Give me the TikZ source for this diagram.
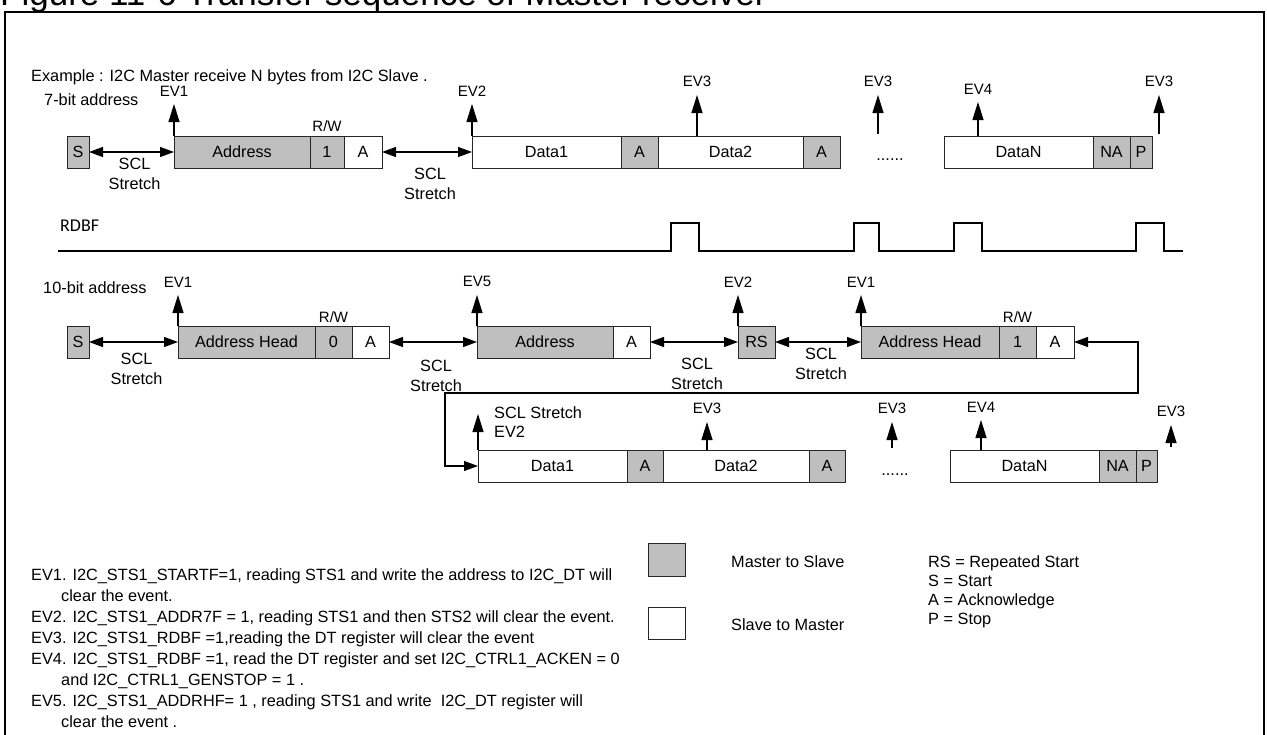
\documentclass[tikz,border=0pt]{standalone}
\usepackage{fontspec}
\setmainfont{Liberation Sans}
\newfontfamily\rdbffont{Carlito}
\usetikzlibrary{arrows.meta, shapes, positioning}

\begin{document}
\begin{tikzpicture}[
    x=1pt, y=-1pt,
    mbox/.style={rectangle, draw=black!85, line width=1pt, fill=black!25, minimum height=32pt,
                 inner sep=0pt, outer sep=0pt, anchor=west, font=\fontsize{16.2pt}{20pt}\selectfont},
    sbox/.style={mbox, fill=white},
    lab/.style={inner sep=0pt, font=\fontsize{16.3pt}{20pt}\selectfont},
    evlab/.style={inner sep=0pt, outer sep=8pt, font=\fontsize{15pt}{18pt}\selectfont},
    evarrow/.style={-{Triangle[length=18pt, width=11pt]}, line width=1.2pt},
    sclarrow/.style={{Triangle[length=14pt, width=10pt]}-{Triangle[length=14pt, width=10pt]}, line width=1.2pt}
]
\useasboundingbox (0,0) rectangle (1267,734);
\node[lab, anchor=base west, font=\fontsize{35pt}{40pt}\selectfont] (title) at (0,5) {Figure 11-6 Transfer sequence of Master receiver};
\draw[line width=2pt] (5,740) |- (1264,12) -- (1264,740);

\node[lab, anchor=base west] (example) at (31,81) {Example : I2C Master receive N bytes from I2C Slave .};
\node[lab, anchor=base west] (bit7) at (44,105) {7-bit address};
\node[lab, anchor=base west] (bit10) at (43,293) {10-bit address};
\node[lab, anchor=base west, font=\rdbffont\fontsize{18pt}{20pt}\selectfont] (rdbf) at (60,231) {RDBF};

\node[mbox, minimum width=22pt] (s1) at (67,152) {S};
\node[mbox, minimum width=136pt] (ad1) at (174,152) {Address};
\node[mbox, minimum width=34pt, right=0pt of ad1] (rw1) {1};
\node[sbox, minimum width=38pt, right=0pt of rw1] (a1) {A};
\node[sbox, minimum width=149pt] (d11) at (472,152) {Data1};
\node[mbox, minimum width=37pt, right=0pt of d11] (a12) {A};
\node[sbox, minimum width=145pt, right=0pt of a12] (d12) {Data2};
\node[mbox, minimum width=37pt, right=0pt of d12] (a13) {A};
\node[lab] (dots1) at (890,160) {......};
\node[sbox, minimum width=149pt] (dn1) at (944,152) {DataN};
\node[mbox, minimum width=37pt, right=0pt of dn1] (na1) {NA};
\node[mbox, minimum width=22pt, right=0pt of na1] (p1) {P};

\node[mbox, minimum width=22pt] (s2) at (67,342) {S};
\node[mbox, minimum width=137pt] (ah2) at (178,342) {Address Head};
\node[mbox, minimum width=37pt, right=0pt of ah2] (rw2) {0};
\node[sbox, minimum width=37pt, right=0pt of rw2] (a2) {A};
\node[mbox, minimum width=136pt] (ad2) at (477,342) {Address};
\node[sbox, minimum width=37pt, right=0pt of ad2] (a22) {A};
\node[mbox, minimum width=37pt] (rs2) at (738,342) {RS};
\node[mbox, minimum width=138pt] (ah22) at (861,342) {Address Head};
\node[mbox, minimum width=37pt, right=0pt of ah22] (rw22) {1};
\node[sbox, minimum width=38pt, right=0pt of rw22] (a23) {A};

\node[sbox, minimum width=149pt] (d31) at (478,466) {Data1};
\node[mbox, minimum width=36pt, right=0pt of d31] (a31) {A};
\node[sbox, minimum width=146pt, right=0pt of a31] (d32) {Data2};
\node[mbox, minimum width=36pt, right=0pt of d32] (a32) {A};
\node[lab] (dots3) at (895,475) {......};
\node[sbox, minimum width=149pt] (dn3) at (950,466) {DataN};
\node[mbox, minimum width=37pt, right=0pt of dn3] (na3) {NA};
\node[mbox, minimum width=21pt, right=0pt of na3] (p3) {P};

\foreach \r/\d in {rw1/4, rw2/3, rw22/3}
    \node[lab, font=\fontsize{15pt}{18pt}\selectfont, above=\d pt of \r] (l\r) {R/W};

\foreach \n/\x/\y/\h/\t in {e11/174/136/32/EV1, e12/472/136/32/EV2, e13/697/136/41/EV3, e14/878/134/39/EV3,
        e15/978/136/34/EV4, e16/1159/134/39/EV3, e21/178/326/31/EV1, e22/477/326/31/EV5, e23/738/326/31/EV2,
        e24/861/326/31/EV1, e32/707/450/28/EV3, e33/892/448/26/EV3, e34/981/450/30/EV4, e35/1171/447/22/EV3}{
    \coordinate (\n) at (\x,\y);
    \node[evlab, above=\h pt of \n] (l\n) {\t};
    \draw[evarrow] (\n) -- (l\n);
}

\node[lab, anchor=west, align=left, font=\fontsize{16.3pt}{19pt}\selectfont] (l31) at (494,422) {SCL Stretch\\EV2};
\coordinate (t31) at (478,414);
\draw[evarrow] (d31.north west) -- (t31);

\foreach \from/\to/\d in {s1/ad1/5.5, a1/d11/15.5, s2/ah2/10.5, a2/ad2/17.5, a22/rs2/15.5, rs2/ah22/5.5}
    \draw[sclarrow] (\from) -- (\to) node[lab, midway, below=\d pt, xshift=3pt, align=center] {SCL\\Stretch};

\coordinate (w1) at (1138,393);
\coordinate (w2) at (445,393);
\draw[sclarrow] (a23) -| (w1) -- (w2) |- (d31);

\draw[line width=1.2pt] (58,251) -- (671,251) |- (699,223) |- (854,251) |- (879,223) |- (954,251)
    |- (982,223) |- (1136,251) |- (1164,223) |- (1183,251);

\node[lab, anchor=north west, align=left, font=\fontsize{16.3pt}{21pt}\selectfont] (notes) at (31,568) {%
EV1. I2C\_STS1\_STARTF=1, reading STS1 and write the address to I2C\_DT will\\
\hspace*{30pt}clear the event.\\
EV2. I2C\_STS1\_ADDR7F = 1, reading STS1 and then STS2 will clear the event.\\
EV3. I2C\_STS1\_RDBF =1,reading the DT register will clear the event\\
EV4. I2C\_STS1\_RDBF =1, read the DT register and set I2C\_CTRL1\_ACKEN = 0\\
\hspace*{30pt}and I2C\_CTRL1\_GENSTOP = 1 .\\
EV5. I2C\_STS1\_ADDRHF= 1 , reading STS1 and write \ I2C\_DT register will\\
\hspace*{30pt}clear the event .};

\node[mbox, minimum width=37pt, minimum height=33pt] (lgm) at (648,559.5) {};
\node[sbox, minimum width=37pt, minimum height=32pt] (lgs) at (648,623) {};
\node[lab, anchor=west] (lgmt) at (731,562) {Master to Slave};
\node[lab, anchor=west] (lgst) at (731,625) {Slave to Master};
\node[lab, anchor=north west, align=left, font=\fontsize{16.3pt}{19pt}\selectfont] (abbr) at (928,555) {RS = Repeated Start\\S = Start\\A = Acknowledge\\P = Stop};
\end{tikzpicture}
\end{document}
